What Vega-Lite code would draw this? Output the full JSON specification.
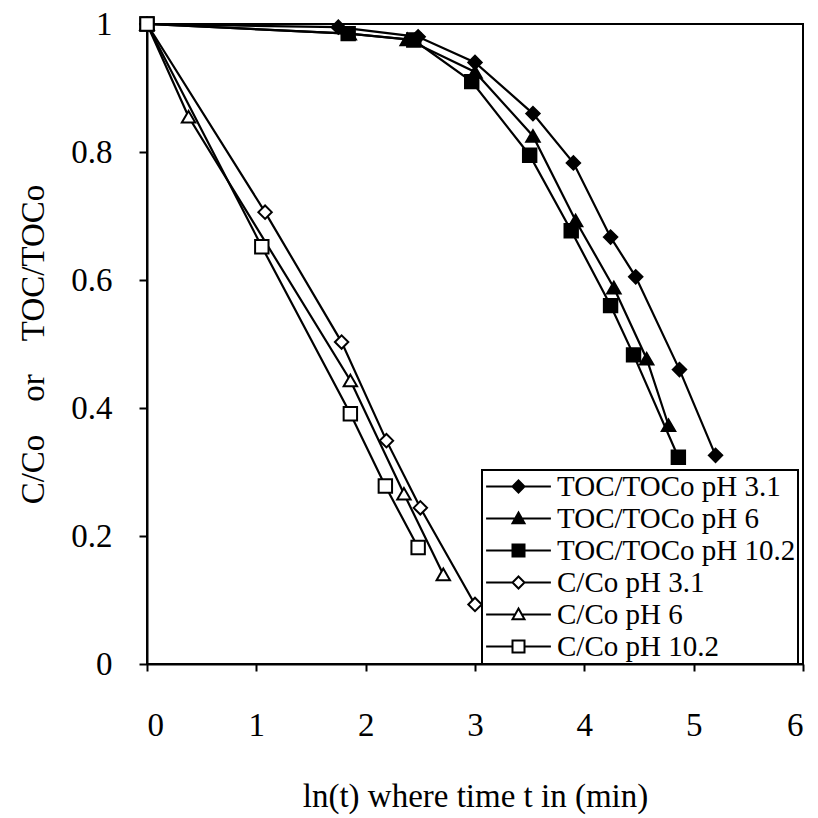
{
  "$schema": "https://vega.github.io/schema/vega-lite/v6.json",
  "width": 656,
  "height": 640,
  "autosize": "none",
  "padding": {"left": 147, "top": 24, "right": 15, "bottom": 154},
  "background": "white",
  "config": {
    "view": {"stroke": "black", "strokeWidth": 2},
    "axis": {
      "grid": false,
      "domainColor": "black",
      "domainWidth": 2,
      "tickColor": "black",
      "tickWidth": 2,
      "labelFont": "Liberation Serif",
      "labelFontSize": 33,
      "labelColor": "black",
      "titleFont": "Liberation Serif",
      "titleFontSize": 33,
      "titleFontWeight": "normal",
      "titleColor": "black"
    },
    "legend": {
      "orient": "none",
      "legendX": 335,
      "legendY": 446,
      "padding": 2,
      "fillColor": "white",
      "strokeColor": "black",
      "strokeWidth": 2,
      "symbolSize": 144,
      "symbolStrokeWidth": 2,
      "symbolStrokeColor": "black",
      "symbolOffset": 20,
      "labelOffset": 24,
      "labelFont": "Liberation Serif",
      "labelFontSize": 29,
      "labelColor": "black",
      "labelLimit": 400,
      "rowPadding": 2
    }
  },
  "data": {
    "values": [
      {"s": "TOC/TOCo pH 3.1", "x": 0, "y": 1},
      {"s": "TOC/TOCo pH 3.1", "x": 1.75, "y": 0.995},
      {"s": "TOC/TOCo pH 3.1", "x": 2.48, "y": 0.98},
      {"s": "TOC/TOCo pH 3.1", "x": 3.0, "y": 0.94},
      {"s": "TOC/TOCo pH 3.1", "x": 3.53, "y": 0.86},
      {"s": "TOC/TOCo pH 3.1", "x": 3.9, "y": 0.783},
      {"s": "TOC/TOCo pH 3.1", "x": 4.24, "y": 0.667},
      {"s": "TOC/TOCo pH 3.1", "x": 4.47, "y": 0.605},
      {"s": "TOC/TOCo pH 3.1", "x": 4.87, "y": 0.46},
      {"s": "TOC/TOCo pH 3.1", "x": 5.2, "y": 0.326},
      {"s": "TOC/TOCo pH 6", "x": 0, "y": 1},
      {"s": "TOC/TOCo pH 6", "x": 1.85, "y": 0.985},
      {"s": "TOC/TOCo pH 6", "x": 2.38, "y": 0.976},
      {"s": "TOC/TOCo pH 6", "x": 3.0, "y": 0.925},
      {"s": "TOC/TOCo pH 6", "x": 3.53, "y": 0.825},
      {"s": "TOC/TOCo pH 6", "x": 3.92, "y": 0.693},
      {"s": "TOC/TOCo pH 6", "x": 4.27, "y": 0.588},
      {"s": "TOC/TOCo pH 6", "x": 4.57, "y": 0.477},
      {"s": "TOC/TOCo pH 6", "x": 4.77, "y": 0.373},
      {"s": "TOC/TOCo pH 10.2", "x": 0, "y": 1},
      {"s": "TOC/TOCo pH 10.2", "x": 1.84, "y": 0.985},
      {"s": "TOC/TOCo pH 10.2", "x": 2.44, "y": 0.975},
      {"s": "TOC/TOCo pH 10.2", "x": 2.97, "y": 0.91},
      {"s": "TOC/TOCo pH 10.2", "x": 3.5, "y": 0.795},
      {"s": "TOC/TOCo pH 10.2", "x": 3.88, "y": 0.677},
      {"s": "TOC/TOCo pH 10.2", "x": 4.24, "y": 0.56},
      {"s": "TOC/TOCo pH 10.2", "x": 4.45, "y": 0.483},
      {"s": "TOC/TOCo pH 10.2", "x": 4.86, "y": 0.323},
      {"s": "C/Co pH 3.1", "x": 0, "y": 1},
      {"s": "C/Co pH 3.1", "x": 1.08, "y": 0.706},
      {"s": "C/Co pH 3.1", "x": 1.78, "y": 0.503},
      {"s": "C/Co pH 3.1", "x": 2.19, "y": 0.349},
      {"s": "C/Co pH 3.1", "x": 2.5, "y": 0.244},
      {"s": "C/Co pH 3.1", "x": 3.0, "y": 0.093},
      {"s": "C/Co pH 6", "x": 0, "y": 1},
      {"s": "C/Co pH 6", "x": 0.38, "y": 0.855},
      {"s": "C/Co pH 6", "x": 1.86, "y": 0.443},
      {"s": "C/Co pH 6", "x": 2.35, "y": 0.266},
      {"s": "C/Co pH 6", "x": 2.71, "y": 0.14},
      {"s": "C/Co pH 10.2", "x": 0, "y": 1},
      {"s": "C/Co pH 10.2", "x": 1.05, "y": 0.652},
      {"s": "C/Co pH 10.2", "x": 1.86, "y": 0.391},
      {"s": "C/Co pH 10.2", "x": 2.18, "y": 0.278},
      {"s": "C/Co pH 10.2", "x": 2.48, "y": 0.182}
    ]
  },
  "encoding": {
    "x": {
      "field": "x", "type": "quantitative",
      "scale": {"domain": [0, 6], "nice": false, "zero": false},
      "axis": {"values": [0, 1, 2, 3, 4, 5, 6], "tickSize": 7, "labelPadding": 38, "title": "ln(t) where time t in (min)", "titlePadding": 38}
    },
    "y": {
      "field": "y", "type": "quantitative",
      "scale": {"domain": [0, 1], "nice": false},
      "axis": {"values": [0, 0.2, 0.4, 0.6, 0.8, 1], "format": "~g", "tickSize": 8, "labelPadding": 27, "title": "C/Co\u00a0\u00a0\u00a0\u00a0or\u00a0\u00a0\u00a0\u00a0TOC/TOCo", "titlePadding": 20}
    }
  },
  "layer": [
    {
      "mark": {"type": "line", "stroke": "black", "strokeWidth": 2.2},
      "encoding": {"detail": {"field": "s", "type": "nominal"}}
    },
    {
      "mark": {"type": "point", "filled": true, "stroke": "black", "strokeWidth": 2, "size": 180, "opacity": 1},
      "encoding": {
        "shape": {
          "field": "s", "type": "nominal",
          "scale": {
            "domain": ["C/Co pH 3.1", "C/Co pH 6", "C/Co pH 10.2", "TOC/TOCo pH 3.1", "TOC/TOCo pH 6", "TOC/TOCo pH 10.2"],
            "range": ["diamond", "triangle-up", "square", "diamond", "triangle-up", "square"]
          },
          "legend": null
        },
        "fill": {
          "field": "s", "type": "nominal",
          "scale": {
            "domain": ["TOC/TOCo pH 3.1", "TOC/TOCo pH 6", "TOC/TOCo pH 10.2", "C/Co pH 3.1", "C/Co pH 6", "C/Co pH 10.2"],
            "range": ["black", "black", "black", "white", "white", "white"]
          },
          "legend": {
            "title": null,
            "symbolType": {"expr": "['M-5.4,0H-1M1,0H5.4M0,-1L1,0L0,1L-1,0Z','M-5.4,0H-0.6M0.6,0H5.4M0,-1L1,0.8L-1,0.8Z','M-5.4,0H-1M1,0H5.4M-1,-1H1V1H-1Z','M-5.4,0H-1M1,0H5.4M0,-1L1,0L0,1L-1,0Z','M-5.4,0H-0.6M0.6,0H5.4M0,-1L1,0.8L-1,0.8Z','M-5.4,0H-1M1,0H5.4M-1,-1H1V1H-1Z'][datum.index]"}
          }
        }
      }
    }
  ]
}
